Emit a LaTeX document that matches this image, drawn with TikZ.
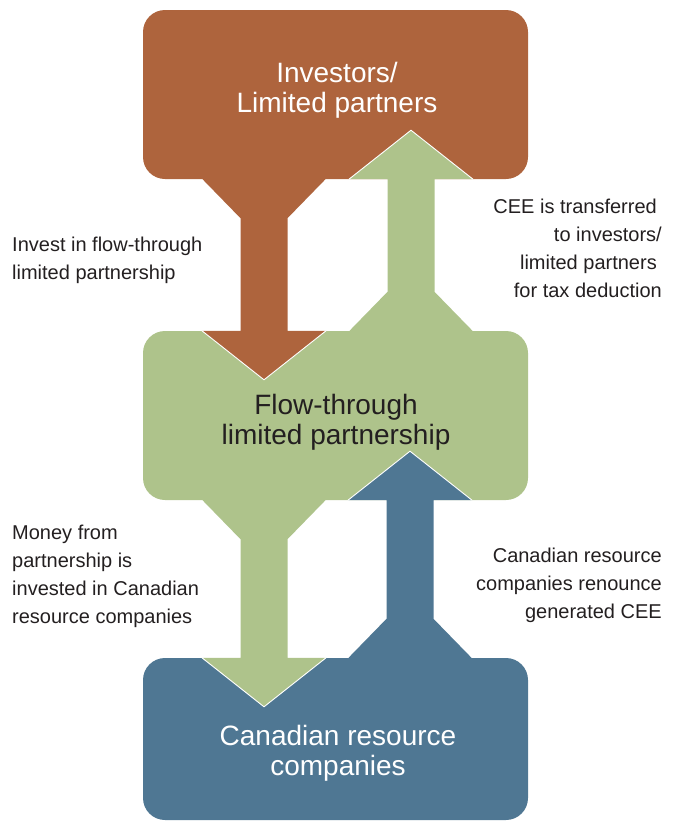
\documentclass[tikz,border=0pt]{standalone}
\usepackage{fontspec}
\setmainfont{Liberation Sans}
\usetikzlibrary{calc}
\definecolor{cbrown}{RGB}{174,100,61}
\definecolor{cgreen}{RGB}{174,195,139}
\definecolor{cblue}{RGB}{79,119,147}
\definecolor{ctext}{RGB}{35,31,32}
\newcommand\flowarr[4]{%
  \fill[#1] ($(#2)+(-61.5,-#4*2)$) -- ($(#2)+(-61.5,0)$) -- ($(#2)+(-23.5,#4*39)$) -- ($(#3)+(-23.5,0)$) -- ($(#3)+(-62,0)$) -- ($(#3)+(0,#4*49)$) -- ($(#3)+(62,0)$) -- ($(#3)+(23.5,0)$) -- ($(#2)+(23.5,#4*39)$) -- ($(#2)+(61.5,0)$) -- ($(#2)+(61.5,-#4*2)$) -- cycle;
  \draw[white, line width=0.9pt, line join=miter] ($(#3)+(-62,0)$) -- ($(#3)+(0,#4*49)$) -- ($(#3)+(62,0)$);
}
\tikzset{
  box/.style={rectangle, rounded corners=22pt, minimum width=385pt, inner sep=0pt, draw=none},
  boxtext/.style={anchor=north, align=center, inner sep=0pt, font=\fontsize{28}{30}\selectfont},
  lbl/.style={inner sep=0pt, text=ctext, font=\fontsize{20}{28}\selectfont}
}
\begin{document}
\begin{tikzpicture}[x=1pt, y=-1pt]
\useasboundingbox (0,0) rectangle (675,822);
% boxes
\node[box, fill=cbrown, minimum height=169pt] (inv) at (335.5,94.5) {};
\node[box, fill=cgreen, minimum height=169pt] (ftlp) at (335.5,415.5) {};
\node[box, fill=cblue, minimum height=162pt] (crc) at (335.5,739) {};
% arrows
\coordinate (a1s) at ($(inv.south)+(-71.5,0)$);
\coordinate (a1e) at ($(ftlp.north)+(-71.5,0)$);
\coordinate (a2s) at ($(ftlp.north)+(75.5,0)$);
\coordinate (a2e) at ($(inv.south)+(75.5,0)$);
\coordinate (a3s) at ($(ftlp.south)+(-71.5,0)$);
\coordinate (a3e) at ($(crc.north)+(-71.5,0)$);
\coordinate (a4s) at ($(crc.north)+(74.5,0)$);
\coordinate (a4e) at ($(ftlp.south)+(74.5,0)$);
\flowarr{cbrown}{a1s}{a1e}{1}
\flowarr{cgreen}{a2s}{a2e}{-1}
\flowarr{cgreen}{a3s}{a3e}{1}
\flowarr{cblue}{a4s}{a4e}{-1}
% box texts
\node[boxtext, text=white] (invt) at ($(inv.north)+(1.5,51)$) {\strut Investors/\\Limited partners};
\node[boxtext, text=ctext] (ftlpt) at ($(ftlp.north)+(0.5,62)$) {\strut Flow-through\\limited partnership};
\node[boxtext, text=white] (crct) at ($(crc.north)+(2.5,66)$) {\strut Canadian resource\\companies};
% labels
\node[lbl, anchor=north west, align=left] (l1) at (12,231.4) {\strut Invest in flow-through\\limited partnership};
\node[lbl, anchor=north east, align=right] (r1) at (662,193.4) {\strut CEE is transferred\kern5pt\\to investors/\\limited partners\kern5pt\\for tax deduction};
\node[lbl, anchor=north west, align=left] (l2) at (12,519.4) {\strut Money from\\partnership is\\invested in Canadian\\resource companies};
\node[lbl, anchor=north east, align=right] (r2) at (662,542.4) {\strut Canadian resource\\companies renounce\\generated CEE};
\end{tikzpicture}
\end{document}
